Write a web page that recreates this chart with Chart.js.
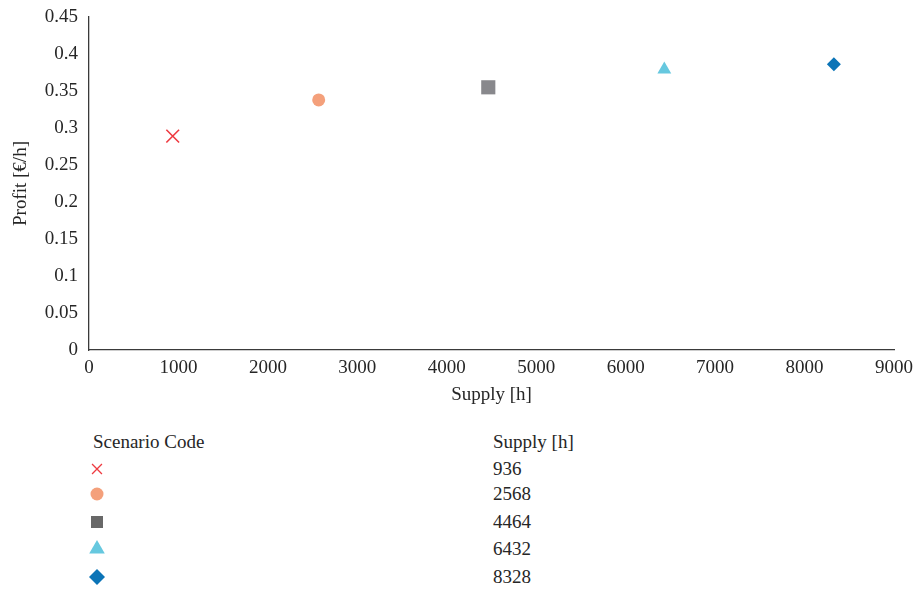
<!DOCTYPE html>
<html>
<head>
<meta charset="utf-8">
<script src="https://cdn.jsdelivr.net/npm/chart.js@4/dist/chart.umd.min.js"></script>
<style>
  html, body { margin: 0; padding: 0; background: #fff; }
  #wrap { position: relative; width: 918px; height: 590px; font-family: "Liberation Serif", "DejaVu Serif", serif; color: #262626; }
  #plot { position: absolute; left: 0; top: 0; }
  .cell { position: absolute; font-size: 19px; line-height: 22px; white-space: nowrap; }
  .mark { position: absolute; }
</style>
</head>
<body>
<div id="wrap">
  <canvas id="plot" width="918" height="410"></canvas>
  <div id="table"></div>
</div>
<script>
// Supply hours and profit for each scenario
const scenarioSupply = [936, 2568, 4464, 6432, 8328];
const scenarioProfit = [0.289, 0.338, 0.355, 0.379, 0.386];
const yTicks = [0, 0.05, 0.1, 0.15, 0.2, 0.25, 0.3, 0.35, 0.4, 0.45];
const xTicks = [0, 1000, 2000, 3000, 4000, 5000, 6000, 7000, 8000, 9000];

// Marker look for each scenario
const markerShapes = ['crossRot', 'circle', 'rect', 'triangle', 'rectRot'];
const markerColors = ['#EE3A40', '#F4A07B', '#88888C', '#66C8DF', '#0B74B7'];
const markerRadius = [9, 6.5, 10, 8, 7];
const keyColors = ['#EE3A40', '#F4A07B', '#686868', '#66C8DF', '#0B74B7'];
const keyRadius = [7, 6.5, 8.5, 9, 8];

const FONT = "'Liberation Serif', 'DejaVu Serif', serif";
const TEXT = '#262626';
const AXIS = '#3a3a3a';

const datasets = scenarioSupply.map((s, i) => ({
  label: String(s),
  data: [{ x: s, y: scenarioProfit[i] }],
  pointStyle: markerShapes[i],
  pointRadius: markerRadius[i],
  pointHoverRadius: markerRadius[i],
  backgroundColor: markerColors[i],
  borderColor: markerColors[i],
  borderWidth: markerShapes[i] === 'crossRot' ? 1.6 : 0,
  showLine: false
}));

const fmt = v => String(Number(Number(v).toFixed(2)));

new Chart(document.getElementById('plot'), {
  type: 'scatter',
  data: { datasets },
  options: {
    responsive: false,
    animation: false,
    layout: { padding: { top: 17, right: 24, left: 0, bottom: 0 } },
    plugins: { legend: { display: false }, tooltip: { enabled: false } },
    scales: {
      x: {
        type: 'linear', min: 0, max: 9000,
        afterFit: s => { s.height = 60; s.paddingLeft = 0; s.paddingRight = 0; },
        afterBuildTicks: s => { s.ticks = xTicks.map(v => ({ value: v })); },
        grid: { display: false, drawTicks: false },
        border: { display: true, color: AXIS, width: 1.3 },
        ticks: { padding: 7, color: TEXT, font: { family: FONT, size: 19 }, callback: v => String(v), maxRotation: 0, autoSkip: false },
        title: { display: true, text: 'Supply [h]', color: TEXT, font: { family: FONT, size: 19 }, padding: { top: 0, bottom: 4 } }
      },
      y: {
        type: 'linear', min: 0, max: 0.45,
        afterFit: s => { s.width = 89; s.paddingTop = 0; s.paddingBottom = 0; },
        afterBuildTicks: s => { s.ticks = yTicks.map(v => ({ value: v })); },
        grid: { display: false, drawTicks: false },
        border: { display: true, color: AXIS, width: 1.3 },
        ticks: { padding: 11, color: TEXT, font: { family: FONT, size: 19 }, callback: v => fmt(v), autoSkip: false },
        title: { display: true, text: 'Profit [€/h]', color: TEXT, font: { family: FONT, size: 19 }, padding: { top: 10, bottom: 0 } }
      }
    }
  }
});

// Key table below the plot: marker and supply value per scenario
const table = document.getElementById('table');
function addText(txt, left, centerY) {
  const d = document.createElement('div');
  d.className = 'cell';
  d.textContent = txt;
  d.style.left = left + 'px';
  d.style.top = (centerY - 11) + 'px';
  table.appendChild(d);
}
addText('Scenario Code', 93, 442);
addText('Supply [h]', 493, 442);
const rowY = [469, 494, 522, 549, 577];
scenarioSupply.forEach((s, i) => {
  addText(String(s), 493, rowY[i]);
  const c = document.createElement('canvas');
  c.className = 'mark';
  c.width = 24; c.height = 24;
  c.style.left = (97 - 12) + 'px';
  c.style.top = (rowY[i] - 12) + 'px';
  table.appendChild(c);
  const ctx = c.getContext('2d');
  ctx.fillStyle = keyColors[i];
  ctx.strokeStyle = keyColors[i];
  ctx.lineWidth = 1.3;
  Chart.helpers.drawPoint(ctx, { pointStyle: markerShapes[i], radius: keyRadius[i], rotation: 0, borderWidth: markerShapes[i] === 'crossRot' ? 1.3 : 0 }, 12, 12);
});
</script>
</body>
</html>
